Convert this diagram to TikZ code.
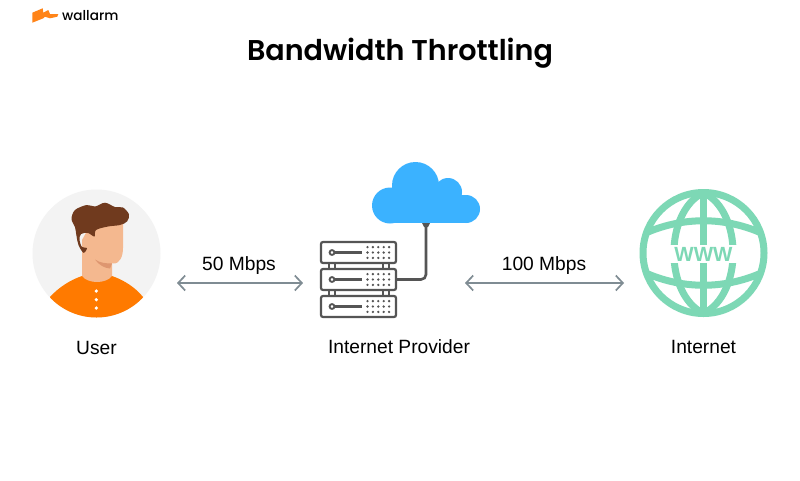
\documentclass[tikz,border=0pt]{standalone}
\usepackage{fontspec}
\setmainfont{Liberation Sans}
\newfontfamily\headfont{Poppins SemiBold}
\newfontfamily\logofont{Poppins Medium}
\usepackage{xcolor}
\usepackage{tikz}
\usetikzlibrary{arrows.meta,positioning,calc}
\definecolor{softGrey}{RGB}{243,243,243}
\definecolor{shirtOrange}{RGB}{255,122,0}
\definecolor{logoOrange}{RGB}{255,132,24}
\definecolor{skinTone}{RGB}{244,184,143}
\definecolor{skinShade}{RGB}{222,150,112}
\definecolor{hairBrown}{RGB}{112,58,30}
\definecolor{cloudBlue}{RGB}{59,178,255}
\definecolor{rackGrey}{RGB}{85,85,85}
\definecolor{globeGreen}{RGB}{125,216,181}
\definecolor{arrowGrey}{RGB}{127,140,147}

\begin{document}
\begin{tikzpicture}[
  x=1pt, y=-1pt,
  caption/.style={font=\fontsize{19.2}{20}\selectfont, text=black, inner sep=0pt, text height=13.5pt, text depth=4pt},
  rack/.style={draw=rackGrey, line width=2.2pt, rounded corners=2pt, minimum width=75pt, minimum height=21pt, inner sep=0pt, outer sep=0pt},
  cable/.style={draw=rackGrey, line width=2.6pt},
  arrow/.style={{Straight Barb[length=7pt,width=15pt]}-{Straight Barb[length=7pt,width=15pt]}, draw=arrowGrey, line width=1.7pt},
  meridian/.style={draw=globeGreen, line width=7pt}
]
  \useasboundingbox (0,0) rectangle (800,480);
  \fill[white] (0,0) rectangle (800,480);

  % logo and title
  \fill[logoOrange] (32.3,12.7) -- (42.7,8.3) -- (43.3,12.7) -- (48.3,10) -- (50,14) -- (58.3,14) -- (57.3,16.7)
    -- (50,18.3) -- (45,16.7) -- (43.3,18.3) -- (32.3,22.7) -- cycle;
  \node[inner sep=0pt, anchor=west, font=\logofont\fontsize{13.6}{16}\selectfont] (logo) at (62,15.5) {wallarm};
  \node[inner sep=0pt, font=\headfont\fontsize{28.6}{30}\selectfont] (title) at (400,53) {Bandwidth Throttling};

  % user
  \node[circle, fill=softGrey, minimum size=128pt, inner sep=0pt, outer sep=0pt] (user) at (96.5,253.5) {};
  \begin{scope}
    \clip (96.5,253.5) circle (64);
    \fill[shirtOrange] (50,297) .. controls (58,288) and (70,280) .. (82,276) -- (112,276)
      .. controls (124,280) and (136,288) .. (143,297) -- (143,325) -- (50,325) -- cycle;
  \end{scope}
  \fill[skinTone] (82,240) -- (82,276) .. controls (88,284) and (106,284) .. (112,276) -- (112,262)
    -- (113,263.5) .. controls (120,264) and (123,256) .. (123,248) -- (123,222) -- (92,222) -- cycle;
  \fill[skinShade] (95,259.5) .. controls (100,263) and (106,263.5) .. (112,263.5) -- (110,268.5)
    .. controls (104,268) and (99,265) .. cycle;
  \fill[hairBrown] plot[smooth cycle, tension=0.55] coordinates {(71.5,219) (75,210) (86.7,205) (95,206.5) (105,202.7) (115,207)
    (123,207.5) (129,214.5) (127,221.5) (120,225) (108,226.5) (96,230) (94.5,236.5) (88,233) (81,234) (79.5,240) (82,247) (87,248)
    (83.5,252.8) (78.5,245) (76.5,236) (75,227)};
  \foreach \y in {291,299.7,308}
    \fill[white] (96.3,\y) circle (1.8);
  \node[caption, below=23pt of user] (userCaption) {User};

  % cloud
  \fill[cloudBlue] (390,205.5) circle (18);
  \fill[cloudBlue] (415.5,185.5) circle (23.5);
  \fill[cloudBlue] (448,192) circle (14);
  \fill[cloudBlue] (466,209) circle (14);
  \fill[cloudBlue] (390,195) rectangle (466,223);
  \coordinate (cloudFoot) at (426,224);
  \fill[rackGrey] (422,223) -- (430,223) -- (428,227) -- (424,227) -- cycle;

  % server
  \node[rack] (rack1) at (358.5,252.5) {};
  \node[rack, below=6pt of rack1] (rack2) {};
  \node[rack, below=6pt of rack2] (rack3) {};
  \foreach \upper/\lower in {rack1/rack2,rack2/rack3}
    \foreach \dx in {8,14,62,68}
      \draw[rackGrey, line width=1.8pt] ($(\upper.south west)+(\dx,0)$) -- ($(\lower.north west)+(\dx,0)$);
  \foreach \r in {rack1,rack2,rack3} {
    \draw[rackGrey, line width=1.9pt] ($(\r.west)+(11,0)$) circle (2.4);
    \draw[rackGrey, line width=2.1pt] ($(\r.west)+(13.5,0)$) -- ($(\r.west)+(41,0)$);
    \foreach \i in {0,1,2,3,4}
      \foreach \j in {-5.4,0,5.4}
        \fill[rackGrey] ($(\r.west)+(46.5+5.4*\i,\j)$) circle (1.3);
  }
  \draw[cable, rounded corners=5pt] (rack2.east) -| (cloudFoot);

  % globe
  \draw[globeGreen, line width=7pt] (703.5,253) circle (60.5);
  \draw[meridian] (703.5,192.5) .. controls (664,212) and (664,294) .. (703.5,313.5);
  \draw[meridian] (703.5,192.5) .. controls (743,212) and (743,294) .. (703.5,313.5);
  \draw[meridian] (703.5,192.5) -- (703.5,313.5);
  \draw[meridian] (648,232) .. controls (684,217) and (723,217) .. (759,232);
  \draw[meridian] (648,274) .. controls (684,289) and (723,289) .. (759,274);
  \fill[white] (668,245) rectangle (739,263);
  \node[inner sep=0pt, text=globeGreen, font=\bfseries\fontsize{20.5}{22}\selectfont] (globe) at (703.5,254) {WWW};
  \coordinate (globeBottom) at (703.5,317);
  \node[caption, below=23pt of globeBottom] (globeCaption) {Internet};

  % links
  \coordinate (userEnd) at (177,283);
  \coordinate (rackLeft) at (303,283);
  \coordinate (rackRight) at (465,283);
  \coordinate (globeEnd) at (624,283);
  \draw[arrow] (userEnd) -- (rackLeft);
  \draw[arrow] (rackRight) -- (globeEnd);
  \node[caption] (slowLabel) at (239,266) {50 Mbps};
  \node[caption] (fastLabel) at (544,266) {100 Mbps};
  \node[caption] (rackCaption) at (399,349) {Internet Provider};
\end{tikzpicture}
\end{document}
